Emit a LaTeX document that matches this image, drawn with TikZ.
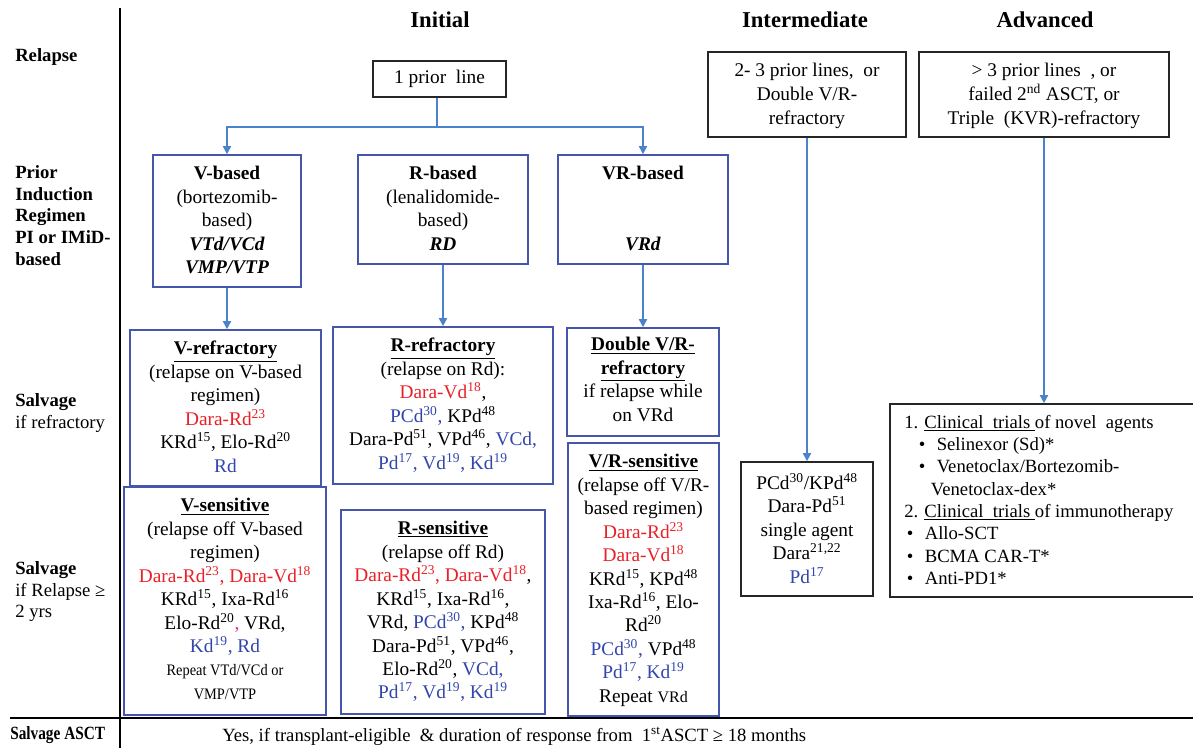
\documentclass[tikz,border=0pt]{standalone}
\usepackage{fontspec}
\setmainfont{Liberation Serif}
\usetikzlibrary{arrows.meta}
\definecolor{bxblue}{RGB}{70,86,172}
\definecolor{arblue}{RGB}{74,130,204}
\definecolor{tred}{RGB}{234,32,40}
\definecolor{tblue}{RGB}{50,70,172}
\definecolor{tpink}{RGB}{230,40,140}
\newcommand{\R}[1]{\textcolor{tred}{#1}}
\newcommand{\B}[1]{\textcolor{tblue}{#1}}
\newcommand{\sps}[1]{\textsuperscript{#1}}
\newcommand{\mkbox}[6]{\node[#6, minimum width={(#4-#2)*0.75pt}, minimum height={(#5-#3)*0.75pt}] (#1) at ({(#2+#4)/2},{(#3+#5)/2}) {};}
\begin{document}
\begin{tikzpicture}[x=0.75pt,y=-0.75pt,
  bbox/.style={draw=bxblue, line width=1.2pt, rectangle, inner sep=0pt},
  kbox/.style={draw=black!85, line width=1.2pt, rectangle, inner sep=0pt},
  txt/.style={inner sep=0pt, align=center, font=\fontsize{14.5}{17.6}\selectfont},
  lbl/.style={inner sep=0pt, align=left, font=\fontsize{14}{16.4}\selectfont},
  head/.style={inner sep=0pt, font=\fontsize{17}{20}\selectfont\bfseries},
  conn/.style={draw=arblue, line width=1.3pt},
  arr/.style={conn, -{Triangle[length=6pt,width=6pt]}},
  rule/.style={draw=black, line width=1.6pt}
]
\useasboundingbox (0,0) rectangle (1193,748);
\clip (0,0) rectangle (1193,748);
\fill[white] (0,0) rectangle (1193,748);

% frame lines
\draw[rule] (120,8) -- (120,748);
\draw[rule] (10,718) -- (1193,718);

% headings
\node[head] (hinit) at (440,20) {Initial};
\node[head] (hint) at (805,20) {Intermediate};
\node[head] (hadv) at (1045,20) {Advanced};

% left labels
\node[lbl, anchor=west, font=\fontsize{14}{16.4}\selectfont\bfseries] (lrel) at (15,57) {Relapse};
\node[lbl, anchor=north west, font=\fontsize{14}{16.4}\selectfont\bfseries] (lprior) at (15,165) {Prior\\Induction\\Regimen\\PI or IMiD-\\based};
\node[lbl, anchor=north west] (lsr) at (15,393) {\textbf{Salvage}\\if refractory};
\node[lbl, anchor=north west] (lsy) at (15,561) {\textbf{Salvage}\\if Relapse ≥\\2 yrs};
\node[lbl, anchor=west] (lasct) at (10,735) {\scalebox{0.82}[1]{\textbf{Salvage ASCT}}};
\node[lbl, anchor=west] (basct) at (222,736) {Yes, if transplant-eligible \ \& duration of response from \ 1\sps{st}ASCT ≥ 18 months};

% boxes
\mkbox{one}{373}{61}{506}{97}{kbox}
\mkbox{vb}{153}{155}{301}{287}{bbox}
\mkbox{rb}{358}{155}{528}{264}{bbox}
\mkbox{vrb}{558}{155}{728}{264}{bbox}
\mkbox{vref}{130}{330}{321}{486}{bbox}
\mkbox{vsens}{124}{487}{326}{715}{bbox}
\mkbox{rref}{333}{327}{553}{484}{bbox}
\mkbox{rsens}{341}{510}{545}{714}{bbox}
\mkbox{dvr}{567}{328}{719}{436}{bbox}
\mkbox{vrsens}{568}{443}{719}{716}{bbox}
\mkbox{inter}{708}{52}{906}{137}{kbox}
\mkbox{adv}{919}{52}{1169}{137}{kbox}
\mkbox{pcd}{741}{462}{873}{596}{kbox}
\mkbox{clin}{890}{404}{1210}{597}{kbox}

% box texts
\node[txt] (onet) at (one) {1 prior \ line};
\node[txt, anchor=north] (vbt) at (227,166) {\textbf{V-based}\\(bortezomib-\\based)\\\textbf{\textit{VTd/VCd}}\\\textbf{\textit{VMP/VTP}}};
\node[txt, anchor=north] (rbt) at (443,166) {\textbf{R-based}\\(lenalidomide-\\based)\\\textbf{\textit{RD}}};
\node[txt, anchor=north] (vrbt) at (643,166) {\textbf{VR-based}\\[35.2pt]\textbf{\textit{VRd}}};
\node[txt, anchor=north] (vreft) at (225.5,341) {\underline{\textbf{V-refractory}}\\(relapse on V-based\\regimen)\\\R{Dara-Rd\sps{23}}\\KRd\sps{15}, Elo-Rd\sps{20}\\\B{Rd}};
\node[txt, anchor=north] (vsenst) at (225,498) {\underline{\textbf{V-sensitive}}\\(relapse off V-based\\regimen)\\\R{Dara-Rd\sps{23}, Dara-Vd\sps{18}}\\KRd\sps{15}, Ixa-Rd\sps{16}\\Elo-Rd\sps{20}\textcolor{tpink}{,} VRd,\\\B{Kd\sps{19}, Rd}\\{\fontsize{12}{14}\selectfont\scalebox{0.9}[1]{Repeat VTd/VCd or}}\\{\fontsize{12}{14}\selectfont\scalebox{0.9}[1]{VMP/VTP}}};
\node[txt, anchor=north] (rreft) at (443,338) {\underline{\textbf{R-refractory}}\\(relapse on Rd):\\\R{Dara-Vd\sps{18}},\\\B{PCd\sps{30},} KPd\sps{48}\\Dara-Pd\sps{51}, VPd\sps{46}, \B{VCd,}\\\B{Pd\sps{17}, Vd\sps{19}, Kd\sps{19}}};
\node[txt, anchor=north] (rsenst) at (443,521) {\underline{\textbf{R-sensitive}}\\(relapse off Rd)\\\R{Dara-Rd\sps{23}, Dara-Vd\sps{18}},\\KRd\sps{15}, Ixa-Rd\sps{16},\\VRd, \B{PCd\sps{30},} KPd\sps{48}\\Dara-Pd\sps{51}, VPd\sps{46},\\Elo-Rd\sps{20}, \B{VCd,}\\\B{Pd\sps{17}, Vd\sps{19}, Kd\sps{19}}};
\node[txt, anchor=north] (dvrt) at (643,337) {\underline{\textbf{Double V/R-}}\\\underline{\textbf{refractory}}\\if relapse while\\on VRd};
\node[txt, anchor=north] (vrsenst) at (643.5,454) {\underline{\textbf{V/R-sensitive}}\\(relapse off V/R-\\based regimen)\\\R{Dara-Rd\sps{23}}\\\R{Dara-Vd\sps{18}}\\KRd\sps{15}, KPd\sps{48}\\Ixa-Rd\sps{16}, Elo-\\Rd\sps{20}\\\B{PCd\sps{30},} VPd\sps{48}\\\B{Pd\sps{17}, Kd\sps{19}}\\Repeat {\fontsize{12}{14}\selectfont VRd}};
\node[txt, anchor=north, font=\fontsize{14.5}{18}\selectfont] (intert) at (807,63) {2- 3 prior lines, \ or\\Double V/R-\\refractory};
\node[txt, anchor=north, font=\fontsize{14.5}{18}\selectfont] (advt) at (1044,63) {> 3 prior lines \ , or\\failed 2\sps{nd} ASCT, or\\Triple \ (KVR)-refractory};
\node[txt, anchor=north] (pcdt) at (807,473) {PCd\sps{30}/KPd\sps{48}\\Dara-Pd\sps{51}\\single agent\\Dara\sps{21,22}\\\B{Pd\sps{17}}};
\node[txt, anchor=north west, align=left, font=\fontsize{14}{16.7}\selectfont] (clint) at (904,415) {1. \underline{Clinical \ trials\ }of novel \ agents\\\hspace*{11pt}\textbullet\hspace{5pt} Selinexor (Sd)*\\\hspace*{11pt}\textbullet\hspace{5pt} Venetoclax/Bortezomib-\\\hspace*{20pt}Venetoclax-dex*\\2. \underline{Clinical \ trials\ }of immunotherapy\\\hspace*{2pt}\textbullet\hspace{5pt} Allo-SCT\\\hspace*{2pt}\textbullet\hspace{5pt} BCMA CAR-T*\\\hspace*{2pt}\textbullet\hspace{5pt} Anti-PD1*};

% connectors
\coordinate (split) at (437,127);
\draw[conn] (split |- one.south) -- (split);
\draw[arr] (split) -| (vb.north);
\draw[arr] (split) -| (vrb.north);
\draw[arr] (vb.south) -- (vb.south |- vref.north);
\draw[arr] (rb.south) -- (rref.north);
\draw[arr] (vrb.south) -- (dvr.north);
\draw[arr] (inter.south) -- (inter.south |- pcd.north);
\draw[arr] (adv.south) -- (adv.south |- clin.north);
\end{tikzpicture}
\end{document}
